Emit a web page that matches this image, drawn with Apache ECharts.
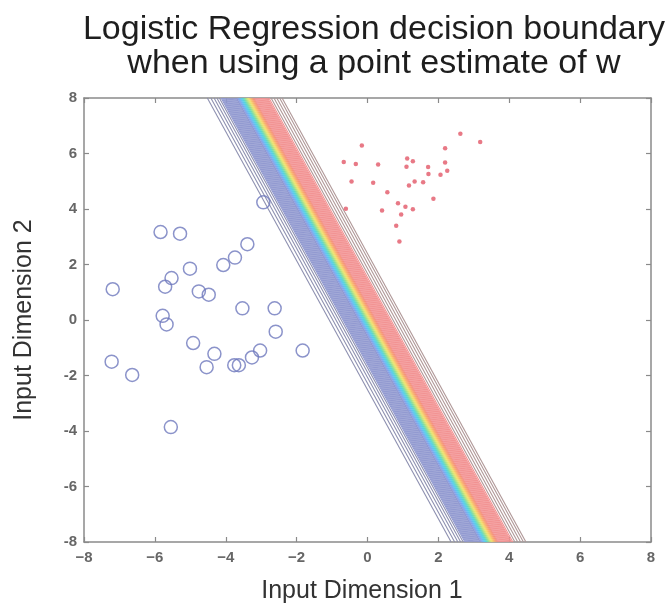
<!DOCTYPE html>
<html>
<head>
<meta charset="utf-8">
<script src="https://cdn.jsdelivr.net/npm/echarts@6/dist/echarts.min.js"></script>
<style>
  html, body { margin: 0; padding: 0; background: #fff; }
  #chart { width: 669px; height: 609px; }
</style>
</head>
<body>
<div id="chart"></div>
<script>
// -------- data --------

// class 0 : open blue circles [x1, x2]
var classZero = [
  [-2.94, 4.24], [-5.84, 3.17], [-5.29, 3.11], [-3.39, 2.73], [-4.07, 1.98],
  [-3.74, 2.25], [-5.01, 1.85], [-5.53, 1.51], [-5.71, 1.20], [-7.19, 1.11],
  [-4.76, 1.03], [-4.48, 0.91], [-3.53, 0.42], [-2.62, 0.42], [-5.78, 0.15],
  [-5.67, -0.16], [-2.59, -0.42], [-4.92, -0.83], [-1.83, -1.10], [-3.03, -1.10],
  [-4.32, -1.22], [-3.26, -1.35], [-7.22, -1.50], [-3.76, -1.63], [-3.63, -1.63],
  [-4.54, -1.70], [-6.64, -1.98], [-5.55, -3.86]
];

// class 1 : small red dots [x1, x2]
var classOne = [
  [2.62, 6.71], [3.18, 6.41], [-0.16, 6.29], [2.19, 6.19], [-0.67, 5.69],
  [-0.33, 5.62], [0.30, 5.60], [1.12, 5.82], [1.28, 5.72], [1.10, 5.52],
  [1.71, 5.51], [2.19, 5.68], [2.25, 5.38], [1.72, 5.26], [2.06, 5.23],
  [-0.45, 4.99], [0.16, 4.95], [1.33, 4.99], [1.57, 4.96], [1.17, 4.85],
  [0.56, 4.60], [1.86, 4.37], [0.86, 4.21], [1.07, 4.08], [1.28, 3.99],
  [0.41, 3.95], [-0.61, 4.01], [0.95, 3.80], [0.81, 3.40], [0.90, 2.83]
];

// contour lines of p(y=1|x,w): x1 = offset + slope * x2
var contourSlope = -0.43;
var offsetsLowGray = [-1.08, -0.98, -0.89, -0.81, -0.74];
var offsetsPurple = [-0.69, -0.66, -0.63, -0.60, -0.57, -0.54, -0.51, -0.48, -0.45,
  -0.42, -0.39, -0.36, -0.33, -0.30, -0.27, -0.25];
var offsetsRainbow = [-0.22, -0.19, -0.16, -0.13, -0.10, -0.07, -0.04, -0.01,
  0.02, 0.05, 0.08, 0.11, 0.14, 0.17, 0.20, 0.23];
var offsetsSalmon = [0.26, 0.29, 0.32, 0.35, 0.38, 0.41, 0.44, 0.47, 0.50, 0.53,
  0.56, 0.59, 0.62, 0.66];
var offsetsHighGray = [0.72, 0.80, 0.88, 0.96, 1.03];

var axisMin = -8, axisMax = 8, axisStep = 2;

// -------- styles --------
var rainbowColors = ['#8a9ee4', '#7aaaee', '#6cb8f0', '#5ec6ee', '#56d0e2', '#5ed6cc',
  '#74dab0', '#94de94', '#b6e282', '#d6e476', '#eee070', '#f6d06c', '#f8bc6c',
  '#f8aa70', '#f69a76', '#f4927e'];
var fontName = '"Liberation Sans", Arial, sans-serif';
var axisGray = '#8a8a8a';

function contourLine(offset, color, width) {
  return {
    type: 'line',
    silent: true,
    symbol: 'none',
    animation: false,
    lineStyle: {color: color, width: width},
    data: [
      [offset + contourSlope * axisMax, axisMax],
      [offset + contourSlope * axisMin, axisMin]
    ]
  };
}

var series = [];
offsetsLowGray.forEach(function (c) { series.push(contourLine(c, '#8e90b0', 1.1)); });
offsetsPurple.forEach(function (c) { series.push(contourLine(c, '#8f97cf', 1.1)); });
offsetsRainbow.forEach(function (c, i) { series.push(contourLine(c, rainbowColors[i], 1.3)); });
offsetsSalmon.forEach(function (c) { series.push(contourLine(c, '#f29090', 1.1)); });
offsetsHighGray.forEach(function (c) { series.push(contourLine(c, '#b09898', 1.1)); });

series.push({
  type: 'scatter',
  name: 'class 0',
  symbol: 'circle',
  symbolSize: 13,
  animation: false,
  itemStyle: {color: 'rgba(0,0,0,0)', borderColor: '#6e78bd', borderWidth: 1.5},
  data: classZero,
  z: 5
});
series.push({
  type: 'scatter',
  name: 'class 1',
  symbol: 'circle',
  symbolSize: 4.5,
  animation: false,
  itemStyle: {color: '#e25868'},
  data: classOne,
  z: 5
});

function minusLabel(v) { return v < 0 ? '\u2212' + (-v) : String(v); }

function baseAxis(extra) {
  var a = {
    type: 'value',
    min: axisMin,
    max: axisMax,
    interval: axisStep,
    splitLine: {show: false},
    axisLine: {show: true, onZero: false, lineStyle: {color: axisGray, width: 1.5}},
    axisTick: {show: true, inside: true, length: 5, lineStyle: {color: axisGray, width: 1.2}},
    axisLabel: {show: false}
  };
  return Object.assign(a, extra);
}

var chart = echarts.init(document.getElementById('chart'));
chart.setOption({
  backgroundColor: '#fff',
  animation: false,
  graphic: [{
    type: 'text',
    x: 374,
    y: 13,
    style: {
      text: 'Logistic Regression decision boundary\nwhen using a point estimate of w',
      font: '34px ' + fontName,
      lineHeight: 34,
      fill: '#1e1e1e',
      align: 'center',
      verticalAlign: 'top'
    }
  }],
  grid: {left: 84, right: 18, top: 98, bottom: 65},
  xAxis: [
    baseAxis({
      position: 'bottom',
      axisLabel: {show: true, showMinLabel: true, showMaxLabel: true, margin: 8,
        fontSize: 15, fontWeight: 'bold', color: '#666', fontFamily: fontName,
        formatter: minusLabel},
      name: 'Input Dimension 1',
      nameLocation: 'middle',
      nameGap: 37,
      nameTextStyle: {fontSize: 25, color: '#333', fontFamily: fontName, padding: [0, 11, 0, 0]}
    }),
    baseAxis({position: 'top'})
  ],
  yAxis: [
    baseAxis({
      position: 'left',
      axisLabel: {show: true, showMinLabel: true, showMaxLabel: true, margin: 7,
        fontSize: 15, fontWeight: 'bold', color: '#666', fontFamily: fontName},
      name: 'Input Dimension 2',
      nameLocation: 'middle',
      nameGap: 47,
      nameTextStyle: {fontSize: 25, color: '#333', fontFamily: fontName}
    }),
    baseAxis({position: 'right'})
  ],
  series: series
});
</script>
</body>
</html>
